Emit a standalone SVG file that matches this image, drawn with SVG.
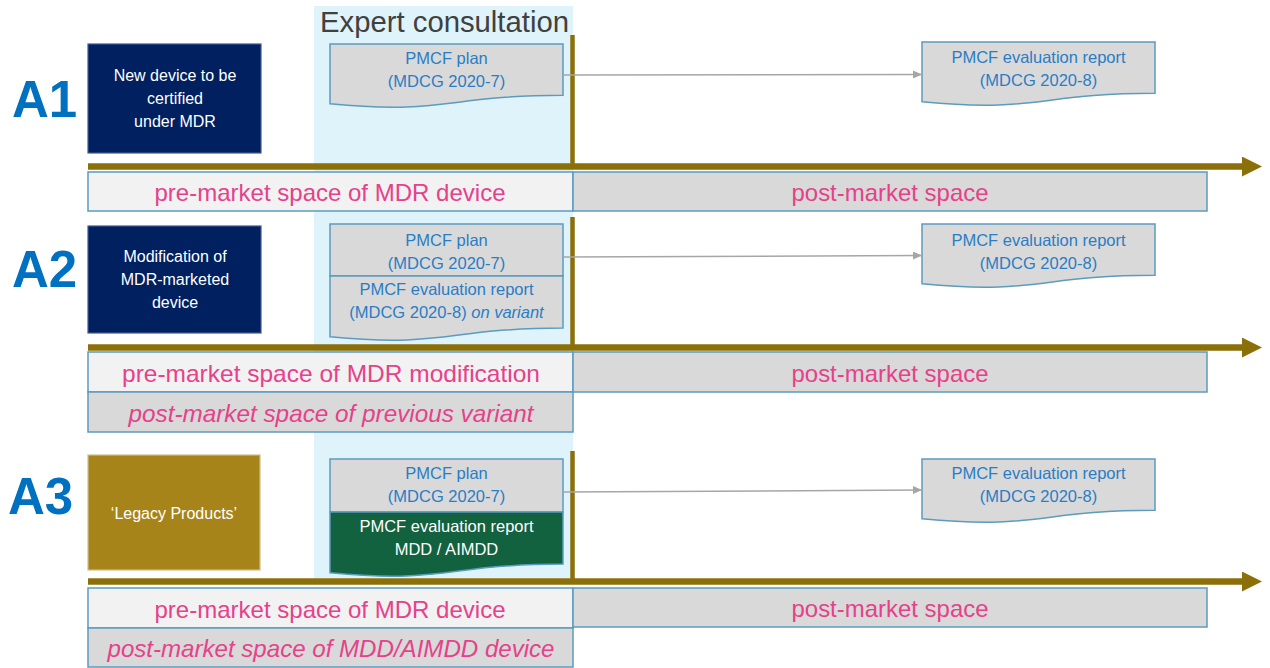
<svg xmlns="http://www.w3.org/2000/svg" width="1270" height="668" viewBox="0 0 1270 668">
<style>
text{font-family:"Liberation Sans","DejaVu Sans",sans-serif}
.lbl{font-size:51px;font-weight:bold;fill:#0070C0}
.box{stroke-width:1.2}
.navy{fill:#002060;stroke:#3E5A92}
.gold{fill:#A6841A;stroke:#CDBE8E}
.wt{fill:#FFFFFF;font-size:16px;text-anchor:middle}
.doc{fill:#D9D9D9;stroke:#5B9BC0;stroke-width:1.5}
.gdoc{fill:#12613F;stroke:#5B9BC0;stroke-width:1.5}
.dt{fill:#2A7DC5;font-size:16.5px;text-anchor:middle}
.gt{fill:#FFFFFF;font-size:16.5px;text-anchor:middle}
.pre{fill:#F2F2F2;stroke:#5B9BC0;stroke-width:1.5}
.post{fill:#D9D9D9;stroke:#5B9BC0;stroke-width:1.5}
.bt{fill:#E6418A;font-size:24px;text-anchor:middle}
.it{font-style:italic}
.axis{stroke:#8B6F09;stroke-width:6.5;fill:none}
.vline{stroke:#8B6F09;stroke-width:4.5}
.conn{stroke:#A6A6A6;stroke-width:1.5;fill:none}
</style>
<defs>
<marker id="big" markerUnits="userSpaceOnUse" markerWidth="20" markerHeight="20" refX="1" refY="10" orient="auto">
<path d="M0,0 L20,10 L0,20 Z" fill="#8B6F09"/>
</marker>
<marker id="small" markerUnits="userSpaceOnUse" markerWidth="9" markerHeight="8" refX="8" refY="4" orient="auto">
<path d="M0,0 L9,4 L0,8 Z" fill="#A6A6A6"/>
</marker>
</defs>

<g id="expert-consultation">
<rect x="314" y="6" width="259" height="572" fill="#DFF3FA"/>
<text x="320" y="32" font-size="29" fill="#404040" textLength="249" lengthAdjust="spacingAndGlyphs">Expert consultation</text>
</g>

<!-- Row A1 -->
<g id="A1-label"><text class="lbl" x="12" y="117">A1</text></g>
<g id="A1-device">
<rect class="box navy" x="88" y="44" width="173" height="109"/>
<text class="wt" x="175" y="81">New device to be</text>
<text class="wt" x="175" y="104">certified</text>
<text class="wt" x="175" y="127">under MDR</text>
</g>
<g id="A1-bands">
<rect class="pre" x="88" y="172" width="485" height="39"/>
<rect class="post" x="573" y="172" width="634" height="39"/>
<text class="bt" x="330" y="201" textLength="351" lengthAdjust="spacingAndGlyphs">pre-market space of MDR device</text>
<text class="bt" x="890" y="201" textLength="197" lengthAdjust="spacingAndGlyphs">post-market space</text>
</g>
<g id="A1-plan">
<path class="doc" d="M330,44 H563 V95.3 C446.5,95.3 446.5,114.9 330,103.8 Z"/>
<text class="dt" x="446.5" y="64">PMCF plan</text>
<text class="dt" x="446.5" y="87">(MDCG 2020-7)</text>
</g>
<g id="A1-report">
<path class="doc" d="M922,42 H1155 V93.3 C1038.5,93.3 1038.5,112.9 922,101.8 Z"/>
<text class="dt" x="1038.5" y="63">PMCF evaluation report</text>
<text class="dt" x="1038.5" y="86">(MDCG 2020-8)</text>
</g>

<!-- Row A2 -->
<g id="A2-label"><text class="lbl" x="12" y="287">A2</text></g>
<g id="A2-device">
<rect class="box navy" x="88" y="226" width="173" height="107"/>
<text class="wt" x="175" y="262">Modification of</text>
<text class="wt" x="175" y="285">MDR-marketed</text>
<text class="wt" x="175" y="308">device</text>
</g>
<g id="A2-bands">
<rect class="pre" x="88" y="352" width="485" height="40"/>
<rect class="post" x="573" y="352" width="634" height="40"/>
<rect class="post" x="88" y="392" width="485" height="40"/>
<text class="bt" x="331" y="381.5" textLength="418" lengthAdjust="spacingAndGlyphs">pre-market space of MDR modification</text>
<text class="bt" x="890" y="381.5" textLength="197" lengthAdjust="spacingAndGlyphs">post-market space</text>
<text class="bt it" x="331" y="421.5" textLength="405" lengthAdjust="spacingAndGlyphs">post-market space of previous variant</text>
</g>
<g id="A2-plan">
<rect class="doc" x="330" y="224" width="233" height="52"/>
<text class="dt" x="446.5" y="246">PMCF plan</text>
<text class="dt" x="446.5" y="269">(MDCG 2020-7)</text>
</g>
<g id="A2-variant-report">
<path class="doc" d="M330,276 H563 V328.1 C446.5,328.1 446.5,348 330,336.7 Z"/>
<text class="dt" x="446.5" y="295">PMCF evaluation report</text>
<text class="dt" x="446.5" y="318">(MDCG 2020-8) <tspan class="it">on variant</tspan></text>
</g>
<g id="A2-report">
<path class="doc" d="M922,224 H1155 V275.3 C1038.5,275.3 1038.5,294.9 922,283.8 Z"/>
<text class="dt" x="1038.5" y="246">PMCF evaluation report</text>
<text class="dt" x="1038.5" y="269">(MDCG 2020-8)</text>
</g>

<!-- Row A3 -->
<g id="A3-label"><text class="lbl" x="8" y="514">A3</text></g>
<g id="A3-device">
<rect class="box gold" x="88" y="455" width="172" height="115"/>
<text class="wt" x="174" y="519">‘Legacy Products’</text>
</g>
<g id="A3-bands">
<rect class="pre" x="88" y="588" width="485" height="40"/>
<rect class="post" x="573" y="588" width="634" height="39"/>
<rect class="post" x="88" y="628" width="485" height="39"/>
<text class="bt" x="330" y="617.5" textLength="351" lengthAdjust="spacingAndGlyphs">pre-market space of MDR device</text>
<text class="bt" x="890" y="617" textLength="197" lengthAdjust="spacingAndGlyphs">post-market space</text>
<text class="bt it" x="331" y="657" textLength="447" lengthAdjust="spacingAndGlyphs">post-market space of MDD/AIMDD device</text>
</g>
<g id="A3-plan">
<rect class="doc" x="330" y="459" width="233" height="53"/>
<text class="dt" x="446.5" y="479">PMCF plan</text>
<text class="dt" x="446.5" y="502">(MDCG 2020-7)</text>
</g>
<g id="A3-legacy-report">
<path class="gdoc" d="M330,512 H563 V564.1 C446.5,564.1 446.5,584 330,572.7 Z"/>
<text class="gt" x="446.5" y="532">PMCF evaluation report</text>
<text class="gt" x="446.5" y="555">MDD / AIMDD</text>
</g>
<g id="A3-report">
<path class="doc" d="M922,459 H1155 V510.3 C1038.5,510.3 1038.5,529.9 922,518.8 Z"/>
<text class="dt" x="1038.5" y="479">PMCF evaluation report</text>
<text class="dt" x="1038.5" y="502">(MDCG 2020-8)</text>
</g>

<g id="connectors">
<line class="axis" x1="88" y1="166.5" x2="1243" y2="166.5" marker-end="url(#big)"/>
<line class="axis" x1="88" y1="347.5" x2="1243" y2="347.5" marker-end="url(#big)"/>
<line class="axis" x1="88" y1="581.5" x2="1243" y2="581.5" marker-end="url(#big)"/>
<line class="vline" x1="572.5" y1="35" x2="572.5" y2="166"/>
<line class="vline" x1="572.5" y1="217" x2="572.5" y2="347"/>
<line class="vline" x1="572.5" y1="451" x2="572.5" y2="581"/>
<line class="conn" x1="563" y1="75" x2="921" y2="74.5" marker-end="url(#small)"/>
<line class="conn" x1="563" y1="257" x2="921" y2="255.5" marker-end="url(#small)"/>
<line class="conn" x1="563" y1="492" x2="921" y2="490" marker-end="url(#small)"/>
</g>
</svg>
